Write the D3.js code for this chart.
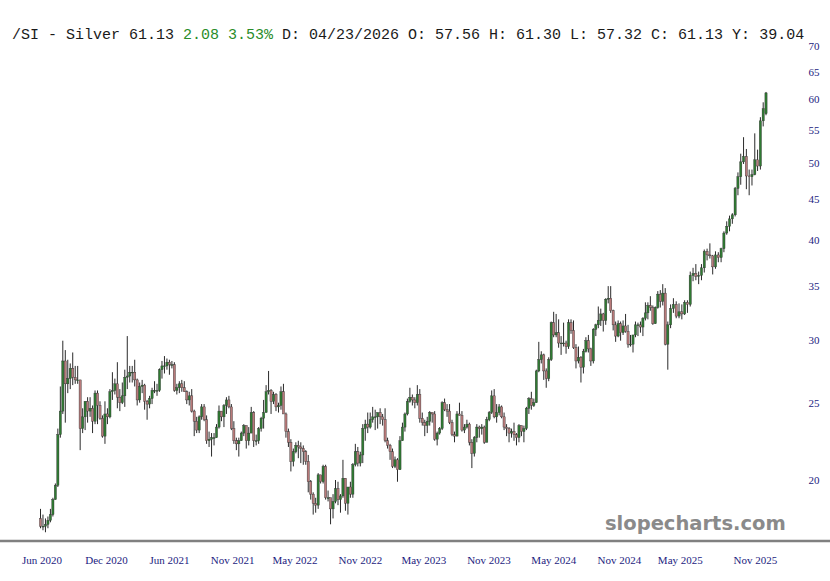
<!DOCTYPE html>
<html><head><meta charset="utf-8">
<script src="https://cdn.jsdelivr.net/npm/d3@7/dist/d3.min.js"></script>
<style>body{margin:0;background:#fff}svg{display:block}</style>
</head><body><svg id="c" width="830" height="581"></svg>
<script>
// ---- data: weekly OHLC of /SI silver ----
const firstWeek = "2020-06-01";   // Monday of first weekly bar
const open = [
 // 2020
 17.9,17.5,17.5,17.6,17.8, 18.1,18.9,19.7,22.8, 24.4,28.2,26.4,26.8,27.6, 26.9,26.7,26.7,23.2, 24.0,25.1,24.4,24.6, 23.7,25.7,24.8,23.9,22.7, 24.2,24.0,25.8,25.9,
 // 2021
 26.4,25.4,25.0,25.5, 26.9,27.0,27.3,27.3, 26.7,25.2,26.2,26.3,25.1, 24.9,25.3,25.9,25.9, 25.9,27.5,27.8,27.8,28.1, 27.9,27.9,25.9,26.1, 26.4,26.1,25.8,25.2, 25.5,24.4,23.7,23.1,24.0, 24.7,23.8,22.4,22.5, 22.6,22.6,23.3,24.4, 24.0,24.8,25.2,24.7,23.2, 22.4,22.2,22.4,22.9,
 // 2022
 23.4,22.4,22.9,24.3,22.4, 22.4,23.2,23.9,24.3, 25.8,25.9,25.1,25.6, 24.7,24.8,25.8,24.2, 23.0,22.3,21.1,21.7,22.1, 22.0,21.9,21.7,21.1, 19.9,19.2,18.7,18.6, 20.3,19.9,20.8,19.0,19.0, 18.4,18.8,19.5,18.9, 19.1,20.1,18.7,19.6,19.2, 20.9,21.7,21.0,21.5, 23.2,23.5,23.3,23.8,
 // 2023
 24.0,24.0,24.3,24.0,23.8, 22.4,22.1,21.7,20.8, 21.2,20.6,22.4,23.3, 24.2,25.1,25.4,25.2, 25.0,25.6,23.9,23.6,23.4, 23.7,24.3,24.2,22.5, 22.9,23.2,25.0,24.5,24.4, 23.6,22.8,22.7,24.2, 24.1,23.1,23.3,23.5, 22.3,21.6,22.6,23.3,23.2, 23.3,22.3,23.8,24.3, 25.5,24.0,24.3,24.7,
 // 2024
 24.0,23.3,23.2,22.9,23.0, 22.8,22.6,23.4,23.0, 23.2,24.6,25.3,24.8, 25.0,27.4,28.3,28.7,27.4, 26.8,28.3,31.5,30.4, 30.6,29.7,29.7,29.7, 29.4,31.5,30.8,29.3,28.2, 28.5,27.7,29.0,29.9, 29.2,28.2,30.9,31.3,31.7, 32.3,31.7,33.7,33.8, 32.6,31.3,30.3,31.4, 30.6,31.2,30.7,29.6,29.6,
 // 2025
 30.4,31.3,31.3,31.1, 31.9,32.4,33.1,32.9, 31.4,32.9,34.2,33.5,34.3, 29.6,31.3,32.8,33.2, 32.1,32.5,32.3,33.4, 33.2,36.1,36.3,36.0,36.1, 36.9,38.7,38.3,38.2, 37.0,38.3,38.0,39.0, 40.8,41.6,42.5,43.0,46.4, 48.0,50.1,50.9,48.1, 48.0,48.3,50.4,49.5, 56.4,57.56
];
const high = [
 // 2020
 18.4,18.1,17.9,18.0,18.4, 19.0,19.8,23.2,26.2, 29.9,29.1,28.3,28.0,28.9, 27.8,27.8,26.7,24.6, 25.1,25.4,25.4,24.8, 25.9,25.9,25.1,24.1,25.1, 24.6,26.0,27.3,26.8,
 // 2021
 28.1,26.0,26.5,27.5, 30.3,27.8,27.8,28.3, 26.8,26.5,26.7,26.4,25.2, 25.5,26.1,26.6,26.4, 27.6,28.2,28.6,28.4,28.3, 28.2,28.1,26.4,26.6, 26.7,26.6,25.9,25.8, 26.0,24.5,24.0,24.1,24.9, 24.9,24.1,23.0,22.9, 22.9,23.5,24.8,24.4, 24.9,25.4,25.5,24.9,23.7, 22.6,22.6,23.0,23.5,
 // 2022
 23.4,23.3,24.7,24.4,22.8, 23.3,24.0,25.2,26.3, 27.4,26.0,25.8,25.7, 25.0,26.2,26.4,24.3, 23.2,22.5,21.9,22.3,22.4, 22.3,22.1,21.8,21.5, 20.0,19.3,19.0,20.4, 20.3,20.9,20.9,19.4,19.0, 19.2,20.0,19.9,19.2, 21.2,20.1,19.6,19.9,21.0, 22.2,22.0,21.7,23.5, 23.8,24.3,24.3,24.7,
 // 2023
 24.5,24.3,24.6,24.2,24.6, 22.6,22.2,21.9,21.4, 21.3,22.7,23.6,24.3, 25.3,26.1,25.6,25.4, 26.3,26.0,24.3,23.8,24.0, 24.4,24.3,24.4,23.0, 23.3,25.1,25.3,24.9,24.9, 23.8,23.0,24.4,25.0, 24.4,23.5,23.8,23.6, 22.5,22.7,23.5,23.4,23.5, 23.4,24.0,24.4,25.9, 26.0,24.9,24.9,24.8,
 // 2024
 24.3,23.5,23.3,23.2,23.6, 22.9,23.5,23.4,23.4, 24.7,25.4,25.8,25.3, 27.5,29.8,29.0,28.8,27.6, 28.5,31.6,32.5,32.3, 31.8,30.3,31.5,29.9, 31.8,31.8,31.7,29.6,29.4, 28.6,29.2,30.2,30.4, 29.3,31.0,31.4,33.0,32.8, 32.4,33.8,35.0,35.0, 32.7,31.6,31.7,31.6, 31.7,32.3,31.3,30.4,30.4,
 // 2025
 31.6,31.5,31.6,32.0, 33.4,33.4,34.0,33.1, 33.0,34.5,34.6,35.2,34.8, 31.6,33.2,33.8,33.5, 33.3,33.2,33.6,33.6, 36.5,36.9,37.3,36.5,37.3, 38.9,39.0,39.6,38.3, 38.7,38.6,39.1,41.0, 42.2,42.9,43.2,46.6,48.6, 51.3,53.8,52.0,49.0, 49.0,54.4,51.9,57.0, 59.5,61.30
];
const low = [
 // 2020
 17.4,17.3,17.2,17.4,17.7, 18.0,18.9,19.6,22.6, 24.2,23.6,25.7,26.0,26.3, 26.4,26.4,21.8,22.9, 23.1,23.6,24.0,22.9, 23.5,23.5,23.8,22.6,22.2, 23.5,23.9,25.2,25.6,
 // 2021
 24.6,24.4,24.9,24.7, 26.0,26.5,26.5,26.2, 24.8,25.0,25.7,24.5,23.8, 24.6,24.9,25.7,25.5, 25.8,26.8,27.2,27.5,27.1, 27.6,25.8,25.6,25.7, 25.8,25.8,24.9,24.8, 24.3,22.7,22.9,22.9,23.8, 23.7,22.2,22.0,21.4, 22.1,22.6,23.2,23.7, 23.3,24.2,24.6,23.1,22.2, 21.8,21.4,22.4,22.7,
 // 2022
 21.9,22.1,22.9,22.0,22.1, 22.2,23.0,23.2,24.3, 25.6,24.2,24.9,24.4, 24.3,24.5,24.2,22.6, 22.0,20.5,20.8,21.6,21.3, 21.0,20.9,20.9,19.3, 18.9,18.1,18.2,18.4, 19.8,19.8,18.9,18.8,17.6, 17.9,18.7,18.6,18.2, 19.0,18.3,18.1,19.0,19.0, 20.8,20.8,20.8,21.0, 22.4,22.9,23.2,23.6,
 // 2023
 23.1,23.2,23.5,23.4,22.3, 21.9,21.2,20.7,20.7, 19.9,20.6,22.4,23.0, 24.1,25.0,24.8,24.6, 24.8,23.6,23.4,22.7,22.9, 23.4,23.6,22.4,22.1, 22.8,23.1,24.4,24.0,23.5, 22.7,22.3,22.7,24.1, 23.0,22.9,23.2,22.1, 20.7,21.4,22.3,22.6,22.8, 22.2,22.3,23.7,24.2, 23.9,23.6,24.1,23.9,
 // 2024
 23.1,22.7,22.3,22.6,22.4, 22.1,22.3,22.7,22.3, 23.1,24.2,24.5,24.7, 25.0,27.3,28.0,26.7,26.1, 26.6,28.2,30.2,30.2, 29.3,28.7,29.4,28.8, 29.2,30.5,29.2,27.6,28.0, 26.5,27.2,28.9,28.9, 27.8,28.0,30.3,31.0,31.2, 30.7,31.3,33.3,32.4, 30.8,29.8,30.2,29.9, 30.4,30.6,29.3,29.4,28.9,
 // 2025
 30.2,30.3,30.6,30.3, 31.7,31.8,32.6,31.3, 31.4,32.8,32.9,33.1,29.5, 27.5,31.0,32.4,31.9, 31.9,31.8,32.2,32.4, 33.0,35.5,35.6,35.2,35.6, 36.4,37.7,37.9,36.2, 36.8,37.5,37.5,38.6, 40.6,41.0,41.9,42.8,45.5, 46.9,49.8,46.3,45.5, 46.8,48.2,48.8,49.0, 55.5,57.32
];
const close = [
 // 2020
 17.5,17.5,17.6,17.8,18.1, 18.9,19.7,22.8,24.4, 28.2,26.4,26.8,27.6,26.9, 26.7,26.7,23.2,24.0, 25.1,24.4,24.6,23.7, 25.7,24.8,23.9,22.7,24.2, 24.0,25.8,25.9,26.4,
 // 2021
 25.4,25.0,25.5,26.9, 27.0,27.3,27.3,26.7, 25.2,26.2,26.3,25.1,24.9, 25.3,25.9,25.9,25.9, 27.5,27.8,27.8,28.1,27.9, 27.9,25.9,26.1,26.4, 26.1,25.8,25.2,25.5, 24.4,23.7,23.1,24.0,24.7, 23.8,22.4,22.5,22.6, 22.6,23.3,24.4,24.0, 24.8,25.2,24.7,23.2,22.4, 22.2,22.4,22.9,23.4,
 // 2022
 22.4,22.9,24.3,22.4,22.4, 23.2,23.9,24.3,25.8, 25.9,25.1,25.6,24.7, 24.8,25.8,24.2,23.0, 22.3,21.1,21.7,22.1,22.0, 21.9,21.7,21.1,19.9, 19.2,18.7,18.6,20.3, 19.9,20.8,19.0,19.0,18.4, 18.8,19.5,18.9,19.1, 20.1,18.7,19.6,19.2,20.9, 21.7,21.0,21.5,23.2, 23.5,23.3,23.8,24.0,
 // 2023
 24.0,24.3,24.0,23.8,22.4, 22.1,21.7,20.8,21.2, 20.6,22.4,23.3,24.2, 25.1,25.4,25.2,25.0, 25.6,23.9,23.6,23.4,23.7, 24.3,24.2,22.5,22.9, 23.2,25.0,24.5,24.4,23.6, 22.8,22.7,24.2,24.1, 23.1,23.3,23.5,22.3, 21.6,22.6,23.3,23.2,23.3, 22.3,23.8,24.3,25.5, 24.0,24.3,24.7,24.0,
 // 2024
 23.3,23.2,22.9,23.0,22.8, 22.6,23.4,23.0,23.2, 24.6,25.3,24.8,25.0, 27.4,28.3,28.7,27.4,26.8, 28.3,31.5,30.4,30.6, 29.7,29.7,29.7,29.4, 31.5,30.8,29.3,28.2,28.5, 27.7,29.0,29.9,29.2, 28.2,30.9,31.3,31.7,32.3, 31.7,33.7,33.8,32.6, 31.3,30.3,31.4,30.6, 31.2,30.7,29.6,29.6,30.4,
 // 2025
 31.3,31.3,31.1,31.9, 32.4,33.1,32.9,31.4, 32.9,34.2,33.5,34.3,29.6, 31.3,32.8,33.2,32.1, 32.5,32.3,33.4,33.2, 36.1,36.3,36.0,36.1,36.9, 38.7,38.3,38.2,37.0, 38.3,38.0,39.0,40.8, 41.6,42.5,43.0,46.4,48.0, 50.1,50.9,48.1,48.0, 48.3,50.4,49.5,56.4, 58.4,61.13
];
const yTickValues = [20, 25, 30, 35, 40, 45, 50, 55, 60, 65, 70];
const xTickDates = ["2020-06-06","2020-12-05","2021-06-01","2021-11-26","2022-05-21","2022-11-22",
                    "2023-05-20","2023-11-20","2024-05-21","2024-11-22","2025-05-09","2025-11-12"];
const symbol = "/SI - Silver";
const change = 2.08, changePct = 3.53, headerDate = "04/23/2026", yearAgo = 39.04;

// ---- build ----
const parse = d3.timeParse("%Y-%m-%d");
const start = parse(firstWeek);
const mondays = d3.timeMonday.every(1).range(start, d3.timeDay.offset(start, 7 * open.length));
const bars = open.map((o, i) => ({
  date: d3.timeDay.offset(mondays[i], 2), o, h: high[i], l: low[i], c: close[i]
}));

const svg = d3.select("#c");
const x = d3.scaleTime()
  .domain([parse("2020-06-03"), parse("2025-04-07"), parse("2025-12-10")])
  .range([40.5, 667, 766]);
const y = d3.scaleLog().domain([20, 70]).range([480, 46]);

// candles
const g = svg.append("g");
g.selectAll("line.wick").data(bars).join("line")
  .attr("class", "wick")
  .attr("x1", d => x(d.date)).attr("x2", d => x(d.date))
  .attr("y1", d => y(d.h)).attr("y2", d => y(d.l))
  .attr("stroke", "#2a2a2a").attr("stroke-width", 1);
g.selectAll("rect.body").data(bars).join("rect")
  .attr("class", "body")
  .attr("x", d => x(d.date) - 1.1).attr("width", 2.2)
  .attr("y", d => y(Math.max(d.o, d.c)))
  .attr("height", d => Math.max(0.8, Math.abs(y(d.o) - y(d.c))))
  .attr("fill", d => d.c >= d.o ? "#2f7a32" : "#b87a7a")
  .attr("stroke", "#333").attr("stroke-width", 0.4);

// y axis (right)
const yAxis = svg.append("g").attr("transform", "translate(814,0)")
  .call(d3.axisRight(y).tickValues(yTickValues).tickSize(0).tickFormat(d3.format("d")));
yAxis.select(".domain").remove();
yAxis.selectAll("text").attr("x", 0).attr("text-anchor", "middle")
  .attr("font-family", "'Liberation Serif','Times New Roman',serif").attr("font-size", 11)
  .attr("fill", "#1c1c80");

// x axis (bottom)
const xAxis = svg.append("g").attr("transform", "translate(0,541)")
  .call(d3.axisBottom(x).tickValues(xTickDates.map(parse)).tickSize(0)
        .tickFormat(d3.timeFormat("%b %Y")));
xAxis.select(".domain").remove();
xAxis.selectAll("text").attr("y", 15)
  .attr("font-family", "'Liberation Serif','Times New Roman',serif").attr("font-size", 11)
  .attr("fill", "#1c1c80");
svg.append("line").attr("x1", 0).attr("x2", 830).attr("y1", 541).attr("y2", 541)
  .attr("stroke", "#808080").attr("stroke-width", 2.5);

// watermark
svg.append("text").attr("x", 605).attr("y", 530)
  .attr("font-family", "'DejaVu Sans',Verdana,sans-serif").attr("font-weight", "bold")
  .attr("font-size", 19.5).attr("fill", "#8a8a8a").text("slopecharts.com");

// header
const last = bars[bars.length - 1];
const f2 = d3.format(".2f");
const hdr = svg.append("text").attr("x", 12).attr("y", 38.5)
  .attr("font-family", "'Courier New','Liberation Mono',monospace").attr("font-size", 15)
  .attr("fill", "#1a1a1a").style("white-space", "pre");
hdr.append("tspan").text(`${symbol} ${f2(last.c)} `);
hdr.append("tspan").attr("fill", "#2a8c2a").text(`${f2(change)} ${f2(changePct)}%`);
hdr.append("tspan").text(` D: ${headerDate} O: ${f2(last.o)} H: ${f2(last.h)} L: ${f2(last.l)} C: ${f2(last.c)} Y: ${f2(yearAgo)}`);
</script>
</body></html>
